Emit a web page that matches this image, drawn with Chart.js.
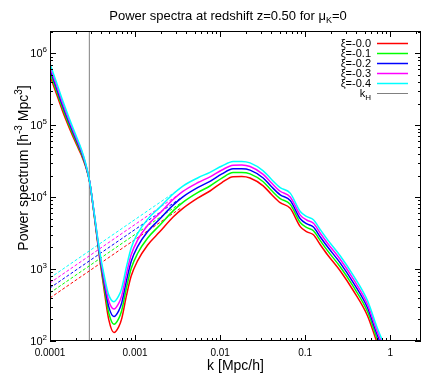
<!DOCTYPE html>
<html lang="en">
<head>
<meta charset="UTF-8">
<title>Power spectra</title>
<script src="https://cdn.jsdelivr.net/npm/chart.js@4.4.1/dist/chart.umd.min.js"></script>
<style>
  html, body { margin: 0; padding: 0; background: #fff; }
  canvas { display: block; }
</style>
</head>
<body>
<canvas id="psChart" width="436" height="374"></canvas>
<script>
  // k grid [h/Mpc] shared by the solid curves
  const kValues = [1.0e-4, 1.19e-4, 1.40e-4, 1.70e-4, 2.05e-4, 2.35e-4, 2.63e-4, 2.92e-4, 3.26e-4, 3.84e-4,
    4.40e-4, 4.90e-4, 5.65e-4, 6.42e-4, 6.97e-4, 7.93e-4, 9.0e-4, 1.07e-3, 1.4e-3, 1.95e-3,
    2.8e-3, 3.65e-3, 5.5e-3, 7.6e-3, 0.0105, 0.0142, 0.018, 0.0225, 0.0321, 0.040,
    0.0508, 0.0667, 0.0875, 0.105, 0.125, 0.15, 0.182, 0.259, 0.369, 0.54,
    0.708, 0.85];

  // P(k) for each xi (solid curves)
  const pXi00 = [4.9e5, 2.75e5, 1.6e5, 9.0e4, 5.4e4, 3.8e4, 2.65e4, 1.64e4, 6.4e3, 1390,
    450, 200, 131, 157, 205, 430, 800, 1300, 2150, 3300,
    5300, 7000, 9800, 1.22e4, 1.6e4, 1.93e4, 1.94e4, 1.85e4, 1.44e4, 1.10e4,
    8400, 7000, 3900, 3300, 3000, 2200, 1600, 940, 500, 225,
    92, 55];
  const pXi01 = [5.43e5, 3.03e5, 1.76e5, 9.75e4, 5.78e4, 4.0e4, 2.72e4, 1.65e4, 6520, 1480,
    515, 247, 171, 205, 266, 551, 1019, 1648, 2685, 4080,
    6460, 8490, 1.167e4, 1.432e4, 1.845e4, 2.20e4, 2.21e4, 2.11e4, 1.64e4, 1.25e4,
    9570, 7980, 4450, 3770, 3420, 2510, 1820, 1070, 570, 257,
    105, 63];
  const pXi02 = [5.98e5, 3.33e5, 1.91e5, 1.05e5, 6.15e4, 4.19e4, 2.79e4, 1.66e4, 6640, 1570,
    585, 301, 219, 263, 339, 693, 1276, 2051, 3304, 4966,
    7760, 1.014e4, 1.371e4, 1.663e4, 2.109e4, 2.48e4, 2.49e4, 2.38e4, 1.85e4, 1.41e4,
    1.08e4, 8990, 5010, 4250, 3850, 2820, 2060, 1210, 643, 290,
    118, 71];
  const pXi03 = [6.56e5, 3.64e5, 2.08e5, 1.13e5, 6.55e4, 4.38e4, 2.86e4, 1.67e4, 6750, 1660,
    661, 362, 278, 333, 428, 865, 1582, 2529, 4036, 5984,
    9270, 1.205e4, 1.60e4, 1.923e4, 2.393e4, 2.79e4, 2.81e4, 2.67e4, 2.08e4, 1.59e4,
    1.21e4, 1.01e4, 5640, 4780, 4340, 3180, 2310, 1360, 723, 325,
    133, 80];
  const pXi04 = [7.19e5, 3.97e5, 2.26e5, 1.21e5, 6.95e4, 4.57e4, 2.94e4, 1.68e4, 6850, 1750,
    746, 438, 352, 423, 540, 1080, 1963, 3119, 4920, 7228,
    1.107e4, 1.429e4, 1.866e4, 2.218e4, 2.716e4, 3.13e4, 3.15e4, 3.0e4, 2.33e4, 1.78e4,
    1.36e4, 1.14e4, 6320, 5360, 4860, 3560, 2590, 1520, 811, 365,
    149, 89];

  // dashed large-scale lines (start / end)
  const kDashed = [1.0e-4, 3.5e-3];
  const dXi00 = [397, 7150];
  const dXi01 = [467, 8410];
  const dXi02 = [547, 9850];
  const dXi03 = [643, 1.157e4];
  const dXi04 = [754, 1.357e4];

  const kHorizon = 2.9e-4;

  const seriesLabels = ['ξ=-0.0', 'ξ=-0.1', 'ξ=-0.2', 'ξ=-0.3', 'ξ=-0.4'];
  const seriesColors = ['#ff0000', '#00ff00', '#0000ff', '#ff00ff', '#00ffff'];
  const solidSeries = [pXi00, pXi01, pXi02, pXi03, pXi04];
  const dashedSeries = [dXi00, dXi01, dXi02, dXi03, dXi04];

  const xTicks = [0.0001, 0.001, 0.01, 0.1, 1];
  const xTickLabels = ['0.0001', '0.001', '0.01', '0.1', '1'];
  const yTicks = [1e2, 1e3, 1e4, 1e5, 1e6];
  const yTickExps = ['2', '3', '4', '5', '6'];

  const X_MIN = 1e-4, X_MAX = 2.3, Y_MIN = 100, Y_MAX = 2.05e6;
  const FONT = '"Liberation Sans", Arial, sans-serif';

  function toPoints(xs, ys) {
    return xs.map((x, i) => ({x: x, y: ys[i]}));
  }

  const datasets = [];
  solidSeries.forEach((s, i) => {
    datasets.push({
      data: toPoints(kValues, s),
      borderColor: seriesColors[i],
      borderWidth: 1.5,
      pointRadius: 0,
      cubicInterpolationMode: 'monotone',
      order: 4 - i
    });
  });
  dashedSeries.forEach((s, i) => {
    datasets.push({
      data: toPoints(kDashed, s),
      borderColor: seriesColors[i],
      borderWidth: 1,
      borderDash: [3, 2],
      pointRadius: 0,
      order: 10 - i
    });
  });
  datasets.push({
    data: [{x: kHorizon, y: Y_MIN}, {x: kHorizon, y: Y_MAX}],
    borderColor: '#808080',
    borderWidth: 1,
    pointRadius: 0,
    order: 20
  });

  // text with sub/superscripts: parts = [[text, size, dy], ...]
  function richWidth(ctx, parts) {
    let w = 0;
    parts.forEach(p => { ctx.font = p[1] + 'px ' + FONT; w += ctx.measureText(p[0]).width; });
    return w;
  }
  function drawRich(ctx, parts, x, y, align) {
    const w = richWidth(ctx, parts);
    let cx = align === 'right' ? x - w : (align === 'center' ? x - w / 2 : x);
    ctx.textAlign = 'left';
    ctx.textBaseline = 'alphabetic';
    parts.forEach(p => {
      ctx.font = p[1] + 'px ' + FONT;
      ctx.fillText(p[0], cx, y + p[2]);
      cx += ctx.measureText(p[0]).width;
    });
  }

  const decorations = {
    id: 'decorations',
    afterDatasetsDraw(chart) {
      const {ctx, chartArea: a, scales: {x, y}} = chart;
      ctx.save();
      ctx.strokeStyle = '#000';
      ctx.fillStyle = '#000';
      ctx.lineWidth = 1;

      // frame
      ctx.strokeRect(a.left + 0.5, a.top + 0.5, a.right - a.left - 1, a.bottom - a.top - 1);

      // ticks (inward, mirrored)
      ctx.beginPath();
      for (let d = -4; d <= 0; d++) {
        for (let m = 1; m <= 9; m++) {
          const v = m * Math.pow(10, d);
          if (v < X_MIN || v > X_MAX) continue;
          const px = Math.round(x.getPixelForValue(v)) + 0.5;
          const len = m === 1 ? 6 : 3;
          ctx.moveTo(px, a.bottom); ctx.lineTo(px, a.bottom - len);
          ctx.moveTo(px, a.top); ctx.lineTo(px, a.top + len);
        }
      }
      for (let d = 2; d <= 6; d++) {
        for (let m = 1; m <= 9; m++) {
          const v = m * Math.pow(10, d);
          if (v < Y_MIN || v > Y_MAX) continue;
          const py = Math.round(y.getPixelForValue(v)) + 0.5;
          const len = m === 1 ? 6 : 3;
          ctx.moveTo(a.left, py); ctx.lineTo(a.left + len, py);
          ctx.moveTo(a.right, py); ctx.lineTo(a.right - len, py);
        }
      }
      ctx.stroke();

      // tick labels
      ctx.font = '10px ' + FONT;
      ctx.textAlign = 'center';
      ctx.textBaseline = 'alphabetic';
      xTicks.forEach((v, i) => {
        ctx.fillText(xTickLabels[i], x.getPixelForValue(v), a.bottom + 15);
      });
      yTicks.forEach((v, i) => {
        const py = y.getPixelForValue(v);
        drawRich(ctx, [['10', 11, 0], [yTickExps[i], 8, -5]], a.left - 3, py + 4, 'right');
      });

      // title
      drawRich(ctx, [['Power spectra at redshift z=0.50 for μ', 13, 0], ['K', 9, 3], ['=0', 13, 0]],
        228, 20, 'center');

      // axis titles
      drawRich(ctx, [['k [Mpc/h]', 14, 0]], (a.left + a.right) / 2, 370, 'center');
      ctx.save();
      ctx.translate(28, 168);
      ctx.rotate(-Math.PI / 2);
      drawRich(ctx, [['Power spectrum [h', 14, 0], ['-3', 10, -6], [' Mpc', 14, 0], ['3', 10, -6], [']', 14, 0]],
        0, 0, 'center');
      ctx.restore();

      // legend
      const lx = 371, l0 = 377, l1 = 408;
      seriesLabels.forEach((lab, i) => {
        const cy = 43 + i * 10;
        drawRich(ctx, [[lab, 11, 0]], lx, cy + 4, 'right');
        ctx.strokeStyle = seriesColors[i];
        ctx.lineWidth = 1.5;
        ctx.beginPath(); ctx.moveTo(l0, cy + 0.5); ctx.lineTo(l1, cy + 0.5); ctx.stroke();
      });
      const cyH = 43 + 5 * 10;
      drawRich(ctx, [['k', 11, 0], ['H', 8, 3]], lx, cyH + 4, 'right');
      ctx.strokeStyle = '#808080';
      ctx.lineWidth = 1;
      ctx.beginPath(); ctx.moveTo(l0, cyH + 0.5); ctx.lineTo(l1, cyH + 0.5); ctx.stroke();

      ctx.restore();
    }
  };

  new Chart(document.getElementById('psChart').getContext('2d'), {
    type: 'line',
    data: {datasets: datasets},
    options: {
      responsive: false,
      animation: false,
      devicePixelRatio: 1,
      layout: {padding: {left: 50, right: 15, top: 31, bottom: 33}},
      plugins: {legend: {display: false}, title: {display: false}, tooltip: {enabled: false}},
      scales: {
        x: {type: 'logarithmic', min: X_MIN, max: X_MAX, display: false},
        y: {type: 'logarithmic', min: Y_MIN, max: Y_MAX, display: false}
      }
    },
    plugins: [decorations]
  });
</script>
</body>
</html>
